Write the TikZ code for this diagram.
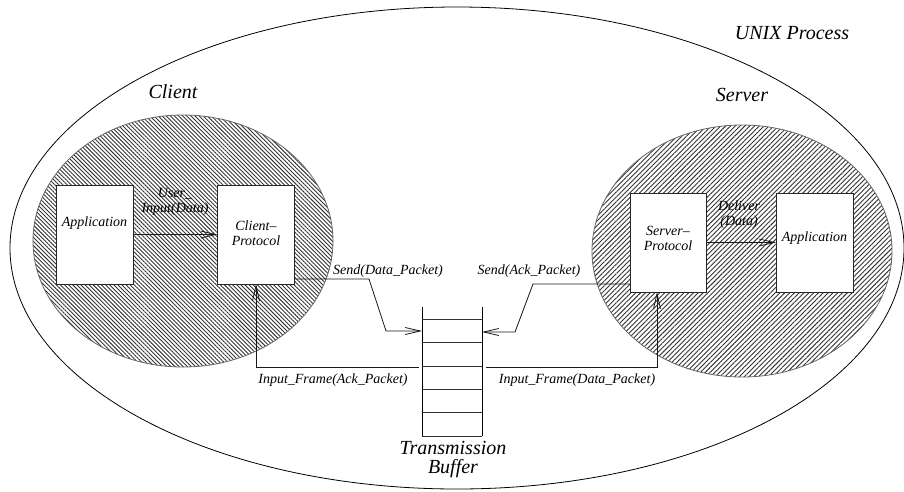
\documentclass[tikz,border=0pt]{standalone}
\usepackage{fontspec}
\setmainfont{Liberation Serif}
\usetikzlibrary{arrows.meta,patterns.meta}
\begin{document}
\begin{tikzpicture}[x=1pt,y=-1pt,
  every node/.style={inner sep=0pt, outer sep=0pt},
  lbl/.style={font=\itshape\fontsize{14}{15}\selectfont, align=center},
  biglbl/.style={font=\itshape\fontsize{20}{19}\selectfont, align=center},
  module/.style={draw=black!85, line width=0.9pt, fill=white,
    minimum width=77pt, minimum height=99pt},
  flow/.style={draw=black!90, line width=0.8pt,
    -{Straight Barb[length=15pt,width=7pt,line width=0.8pt]}},
  hatchC/.style={draw=black!60, line width=0.8pt,
    pattern={Lines[angle=-45,distance=2.9pt,line width=0.9pt]}, pattern color=black!80},
  hatchS/.style={draw=black!60, line width=0.8pt,
    pattern={Lines[angle=45,distance=3.4pt,line width=0.9pt]}, pattern color=black!80},
]
\useasboundingbox (0,0) rectangle (904,491);

% enclosing process
\draw[line width=0.8pt] (457,248) ellipse [x radius=447pt, y radius=241pt];
\node[biglbl] (unix) at (792,33) {UNIX Process};

% client and server regions
\path[hatchC] (183,241) ellipse [x radius=150pt, y radius=126pt];
\path[hatchS] (742,251) ellipse [x radius=150pt, y radius=126pt];
\node[biglbl] (clientlbl) at (173,92) {Client};
\node[biglbl] (serverlbl) at (742,95) {Server};

% modules
\node[module, label={[lbl,yshift=11pt]center:Application}] (app1) at (94.5,234.5) {};
\node[module, label={[lbl,yshift=1pt]center:Client–\\Protocol}] (cp) at (256,234.5) {};
\node[module, minimum width=76pt, label={[lbl,yshift=4pt]center:Server–\\Protocol}] (sp) at (668,242.5) {};
\node[module, label={[lbl,yshift=4pt]center:Application}] (app2) at (814.5,242.5) {};

% transmission buffer
\node[minimum width=60pt, minimum height=129pt] (buf) at (452,371.5) {};
\draw[line width=0.9pt] (buf.north west) -- (buf.south west);
\draw[line width=0.9pt] (buf.north east) -- (buf.south east);
\foreach \yy in {319,342,366,389,412,436}
  \draw[line width=0.8pt, black!80] (buf.west |- 0,\yy) -- (buf.east |- 0,\yy);
\node[biglbl] (buflbl) at (453,459.5) {Transmission\\Buffer};

% local calls
\draw[flow] (app1.east) -- (cp.west);
\node[lbl] (userin) at (175,201.5) {User\_\\Input(Data)};
\draw[flow] (sp.east) -- (app2.west);
\node[lbl] (deliver) at (739,214.5) {Deliver\\(Data)};

% sending into the buffer
\coordinate (sdA) at (369,279);
\coordinate (sdB) at (386,331);
\draw[flow] ([yshift=5pt]cp.south east) -- (sdA) -- (sdB) -- (buf.west |- sdB);
\node[lbl] (sendD) at (388,271) {Send(Data\_Packet)};

\coordinate (saA) at (533,284);
\coordinate (saB) at (515,332);
\draw[flow] ([yshift=8pt]sp.south west) -- (saA) -- (saB) -- (buf.east |- saB);
\node[lbl] (sendA) at (529,271) {Send(Ack\_Packet)};

% frames delivered from the buffer
\coordinate (inA) at (419,367);
\draw[flow] (inA) -- (cp.south |- inA) -- (cp.south);
\node[lbl] (inAlbl) at (333,380) {Input\_Frame(Ack\_Packet)};

\coordinate (inD) at (486,367);
\coordinate (spin) at ([xshift=-11pt]sp.south);
\draw[flow] (inD) -- (spin |- inD) -- (spin);
\node[lbl] (inDlbl) at (577,380) {Input\_Frame(Data\_Packet)};
\end{tikzpicture}
\end{document}
